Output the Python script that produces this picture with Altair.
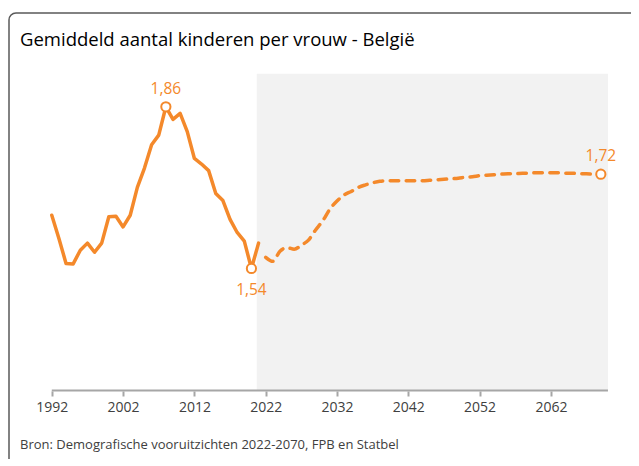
import math
import altair as alt
import pandas as pd

# ---- data ----
hist_years = list(range(1992, 2022))
hist_vals = [1.646, 1.600, 1.551, 1.550, 1.577, 1.591, 1.573, 1.591, 1.643, 1.644,
             1.623, 1.646, 1.701, 1.739, 1.785, 1.804, 1.860, 1.835, 1.847, 1.811,
             1.758, 1.747, 1.734, 1.689, 1.675, 1.638, 1.612, 1.595, 1.541, 1.591]

proj_years = list(range(2022, 2070))
proj_vals = [1.563, 1.555, 1.575, 1.582, 1.579, 1.587, 1.597, 1.617, 1.635, 1.658,
             1.674, 1.686, 1.693, 1.701, 1.706, 1.710, 1.713, 1.714, 1.714, 1.714,
             1.714, 1.714, 1.714, 1.715, 1.716, 1.717, 1.718, 1.719, 1.721, 1.722,
             1.724, 1.725, 1.726, 1.727, 1.728, 1.728, 1.729, 1.729, 1.730, 1.730,
             1.730, 1.730, 1.729, 1.729, 1.728, 1.728, 1.727, 1.727]

mark_years = [2008, 2020, 2069]
mark_vals = [1.860, 1.541, 1.727]
mark_texts = ["1,86", "1,54", "1,72"]
mark_pos = ["above", "below", "above"]

tick_years = [1992, 2002, 2012, 2022, 2032, 2042, 2052, 2062]
axis_start, axis_end = 1992, 2070
shade_start, shade_end = 2020.75, 2070
y_base, y_top_shade = 1.3, 1.925

title_text = "Gemiddeld aantal kinderen per vrouw - België"
source_text = "Bron: Demografische vooruitzichten 2022-2070, FPB en Statbel"

ORANGE = "#F4892B"
FRAME = "#595959"
FONT = "Open Sans"

hist = pd.DataFrame({"year": hist_years, "val": hist_vals})
proj = pd.DataFrame({"year": proj_years, "val": proj_vals})
marks = pd.DataFrame({"year": mark_years, "val": mark_vals, "txt": mark_texts, "pos": mark_pos})
shade = pd.DataFrame({"x": [shade_start], "x2": [shade_end], "y": [y_base], "y2": [y_top_shade]})
axisline = pd.DataFrame({"x": [axis_start], "x2": [axis_end], "y": [y_base]})
one = pd.DataFrame({"f": [1]})

xscale = alt.Scale(domain=[1986, 2078], nice=False, zero=False)
yscale = alt.Scale(domain=[1.1, 2.045], nice=False, zero=False)

xaxis = alt.Axis(values=tick_years, format="d", title=None, grid=False, domain=False,
                 tickColor="#A6A6A6", tickWidth=2, tickSize=5, labelFont=FONT,
                 labelFontSize=14, labelColor="#404040", labelPadding=4,
                 offset=-101, labelFlush=False)

shade_l = alt.Chart(shade).mark_rect(color="#F2F2F2").encode(
    x=alt.X("x:Q", scale=xscale, axis=xaxis), x2="x2:Q",
    y=alt.Y("y:Q", scale=yscale, axis=None), y2="y2:Q")

axis_l = alt.Chart(axisline).mark_rule(color="#A6A6A6", strokeWidth=2).encode(
    x=alt.X("x:Q", scale=xscale), x2="x2:Q", y=alt.Y("y:Q", scale=yscale))

hist_l = alt.Chart(hist).mark_line(color=ORANGE, strokeWidth=3.5, strokeJoin="round",
                                   strokeCap="round").encode(
    x=alt.X("year:Q", scale=xscale), y=alt.Y("val:Q", scale=yscale))

proj_l = alt.Chart(proj).mark_line(color=ORANGE, strokeWidth=3.5, strokeDash=[8.5, 7.5],
                                   strokeCap="round", strokeJoin="round",
                                   interpolate="monotone").encode(
    x=alt.X("year:Q", scale=xscale), y=alt.Y("val:Q", scale=yscale))

pts_l = alt.Chart(marks).mark_point(shape="circle", fill="white", fillOpacity=1, opacity=1,
                                    stroke=ORANGE, strokeWidth=2, size=85).encode(
    x=alt.X("year:Q", scale=xscale), y=alt.Y("val:Q", scale=yscale))

lab_above = alt.Chart(marks).transform_filter(alt.datum.pos == "above").mark_text(
    color=ORANGE, font=FONT, fontSize=15.5, dy=-18, baseline="middle", align="center").encode(
    x=alt.X("year:Q", scale=xscale), y=alt.Y("val:Q", scale=yscale), text="txt:N")

lab_below = alt.Chart(marks).transform_filter(alt.datum.pos == "below").mark_text(
    color=ORANGE, font=FONT, fontSize=15.5, dy=22, baseline="middle", align="center").encode(
    x=alt.X("year:Q", scale=xscale), y=alt.Y("val:Q", scale=yscale), text="txt:N")

title_l = alt.Chart(pd.DataFrame({"t": [title_text]})).mark_text(
    font=FONT, fontSize=18.5, color="#000000", align="left", baseline="alphabetic").encode(
    x=alt.value(11), y=alt.value(33), text="t:N")

source_l = alt.Chart(pd.DataFrame({"t": [source_text]})).mark_text(
    font=FONT, fontSize=13, color="#404040", align="left", baseline="alphabetic").encode(
    x=alt.value(11), y=alt.value(436), text="t:N")

# decorative frame: left and top edges with a rounded top-left corner
frame_left = alt.Chart(one).mark_rule(color=FRAME, strokeWidth=1.5).encode(
    x=alt.value(0), y=alt.value(7), y2=alt.value(620))
frame_top = alt.Chart(one).mark_rule(color=FRAME, strokeWidth=1.5).encode(
    x=alt.value(7), x2=alt.value(760), y=alt.value(0))
frame_corner = alt.Chart(one).mark_arc(color=FRAME, innerRadius=6.25, radius=7.75,
                                       theta=1.5 * math.pi, theta2=2 * math.pi).encode(
    x=alt.value(7), y=alt.value(7))

chart = alt.layer(shade_l, axis_l, hist_l, proj_l, pts_l, lab_above, lab_below,
                  title_l, source_l, frame_left, frame_top, frame_corner).properties(
    width=656, height=479,
    autosize=alt.AutoSizeParams(type="none"),
    padding={"left": 1, "top": 5, "right": -34, "bottom": -33},
    background="white",
).configure_view(strokeWidth=0)

chart.save("out.html", embed_options={"renderer": "svg", "actions": False})
